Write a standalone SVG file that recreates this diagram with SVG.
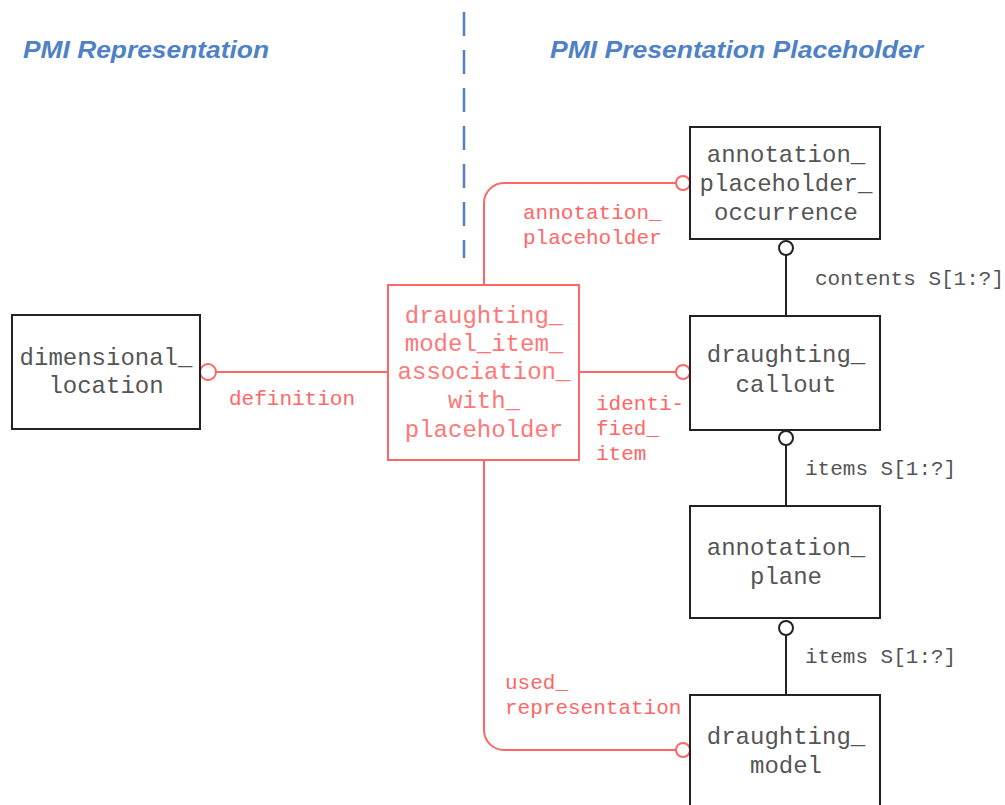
<svg xmlns="http://www.w3.org/2000/svg" width="1005" height="805" viewBox="0 0 1005 805">
<style>
.box{fill:#fff;stroke:#222;stroke-width:2}
.rbox{fill:#fff;stroke:#f66;stroke-width:2}
.t{font-family:"Liberation Mono","Courier New",monospace;font-size:24px;fill:#555;text-anchor:middle}
.rt{font-family:"Liberation Mono","Courier New",monospace;font-size:24px;fill:#f77;text-anchor:middle}
.lbl{font-family:"Liberation Mono","Courier New",monospace;font-size:21px;fill:#555}
.rlbl{font-family:"Liberation Mono","Courier New",monospace;font-size:21px;fill:#f66}
.title{font-family:"Liberation Sans",Arial,sans-serif;font-size:24px;font-weight:bold;font-style:italic;fill:#4f81c7}
.rl{fill:none;stroke:#f66;stroke-width:2}
.bl{fill:none;stroke:#222;stroke-width:2}
.rc{fill:#fff;stroke:#f66;stroke-width:2}
.bc{fill:#fff;stroke:#222;stroke-width:2}
</style>
<rect width="1005" height="805" fill="#fff"/>
<g id="titles">
<text class="title" x="23" y="58" textLength="246" lengthAdjust="spacingAndGlyphs">PMI Representation</text>
<text class="title" x="550" y="58" textLength="373" lengthAdjust="spacingAndGlyphs">PMI Presentation Placeholder</text>
<line x1="464" y1="12" x2="464" y2="258" stroke="#4f81c7" stroke-width="2.5" stroke-dasharray="24 14"/>
</g>
<g id="connectors">
<line class="rl" x1="216" y1="372" x2="388" y2="372"/>
<path class="rl" d="M484 285 V203 A20 20 0 0 1 504 183 H676"/>
<line class="rl" x1="579" y1="372" x2="676" y2="372"/>
<path class="rl" d="M484 460 V730 A20 20 0 0 0 504 750 H676"/>
<circle class="rc" cx="208" cy="372" r="8"/>
<circle class="rc" cx="683" cy="183" r="7"/>
<circle class="rc" cx="683" cy="372" r="7"/>
<circle class="rc" cx="683" cy="750" r="7"/>
<line class="bl" x1="786" y1="255" x2="786" y2="316"/>
<line class="bl" x1="786" y1="445" x2="786" y2="506"/>
<line class="bl" x1="786" y1="635" x2="786" y2="695"/>
<circle class="bc" cx="786" cy="248" r="7"/>
<circle class="bc" cx="786" cy="438" r="7"/>
<circle class="bc" cx="786" cy="628" r="7"/>
<text class="rlbl" x="229" y="405">definition</text>
<text class="rlbl" x="523" y="219">annotation_</text>
<text class="rlbl" x="523" y="244">placeholder</text>
<text class="rlbl" x="596" y="410">identi-</text>
<text class="rlbl" x="596" y="435">fied_</text>
<text class="rlbl" x="596" y="460">item</text>
<text class="rlbl" x="505" y="689">used_</text>
<text class="rlbl" x="505" y="714">representation</text>
<text class="lbl" x="815" y="285">contents S[1:?]</text>
<text class="lbl" x="805" y="475">items S[1:?]</text>
<text class="lbl" x="805" y="663">items S[1:?]</text>
</g>
<g id="dimensional_location">
<rect class="box" x="12" y="315" width="188" height="114"/>
<text class="t" x="106" y="365">dimensional_</text>
<text class="t" x="106" y="393">location</text>
</g>
<g id="draughting_model_item_association_with_placeholder">
<rect class="rbox" x="388" y="285" width="191" height="175"/>
<text class="rt" x="484" y="323">draughting_</text>
<text class="rt" x="484" y="351">model_item_</text>
<text class="rt" x="484" y="379">association_</text>
<text class="rt" x="484" y="408">with_</text>
<text class="rt" x="484" y="437">placeholder</text>
</g>
<g id="annotation_placeholder_occurrence">
<rect class="box" x="690" y="127" width="190" height="112"/>
<text class="t" x="786" y="162">annotation_</text>
<text class="t" x="786" y="191">placeholder_</text>
<text class="t" x="786" y="220">occurrence</text>
</g>
<g id="draughting_callout">
<rect class="box" x="690" y="316" width="190" height="114"/>
<text class="t" x="786" y="362">draughting_</text>
<text class="t" x="786" y="392">callout</text>
</g>
<g id="annotation_plane">
<rect class="box" x="690" y="506" width="190" height="112"/>
<text class="t" x="786" y="555">annotation_</text>
<text class="t" x="786" y="584">plane</text>
</g>
<g id="draughting_model">
<rect class="box" x="690" y="695" width="190" height="130"/>
<text class="t" x="786" y="744">draughting_</text>
<text class="t" x="786" y="773">model</text>
</g>
</svg>
